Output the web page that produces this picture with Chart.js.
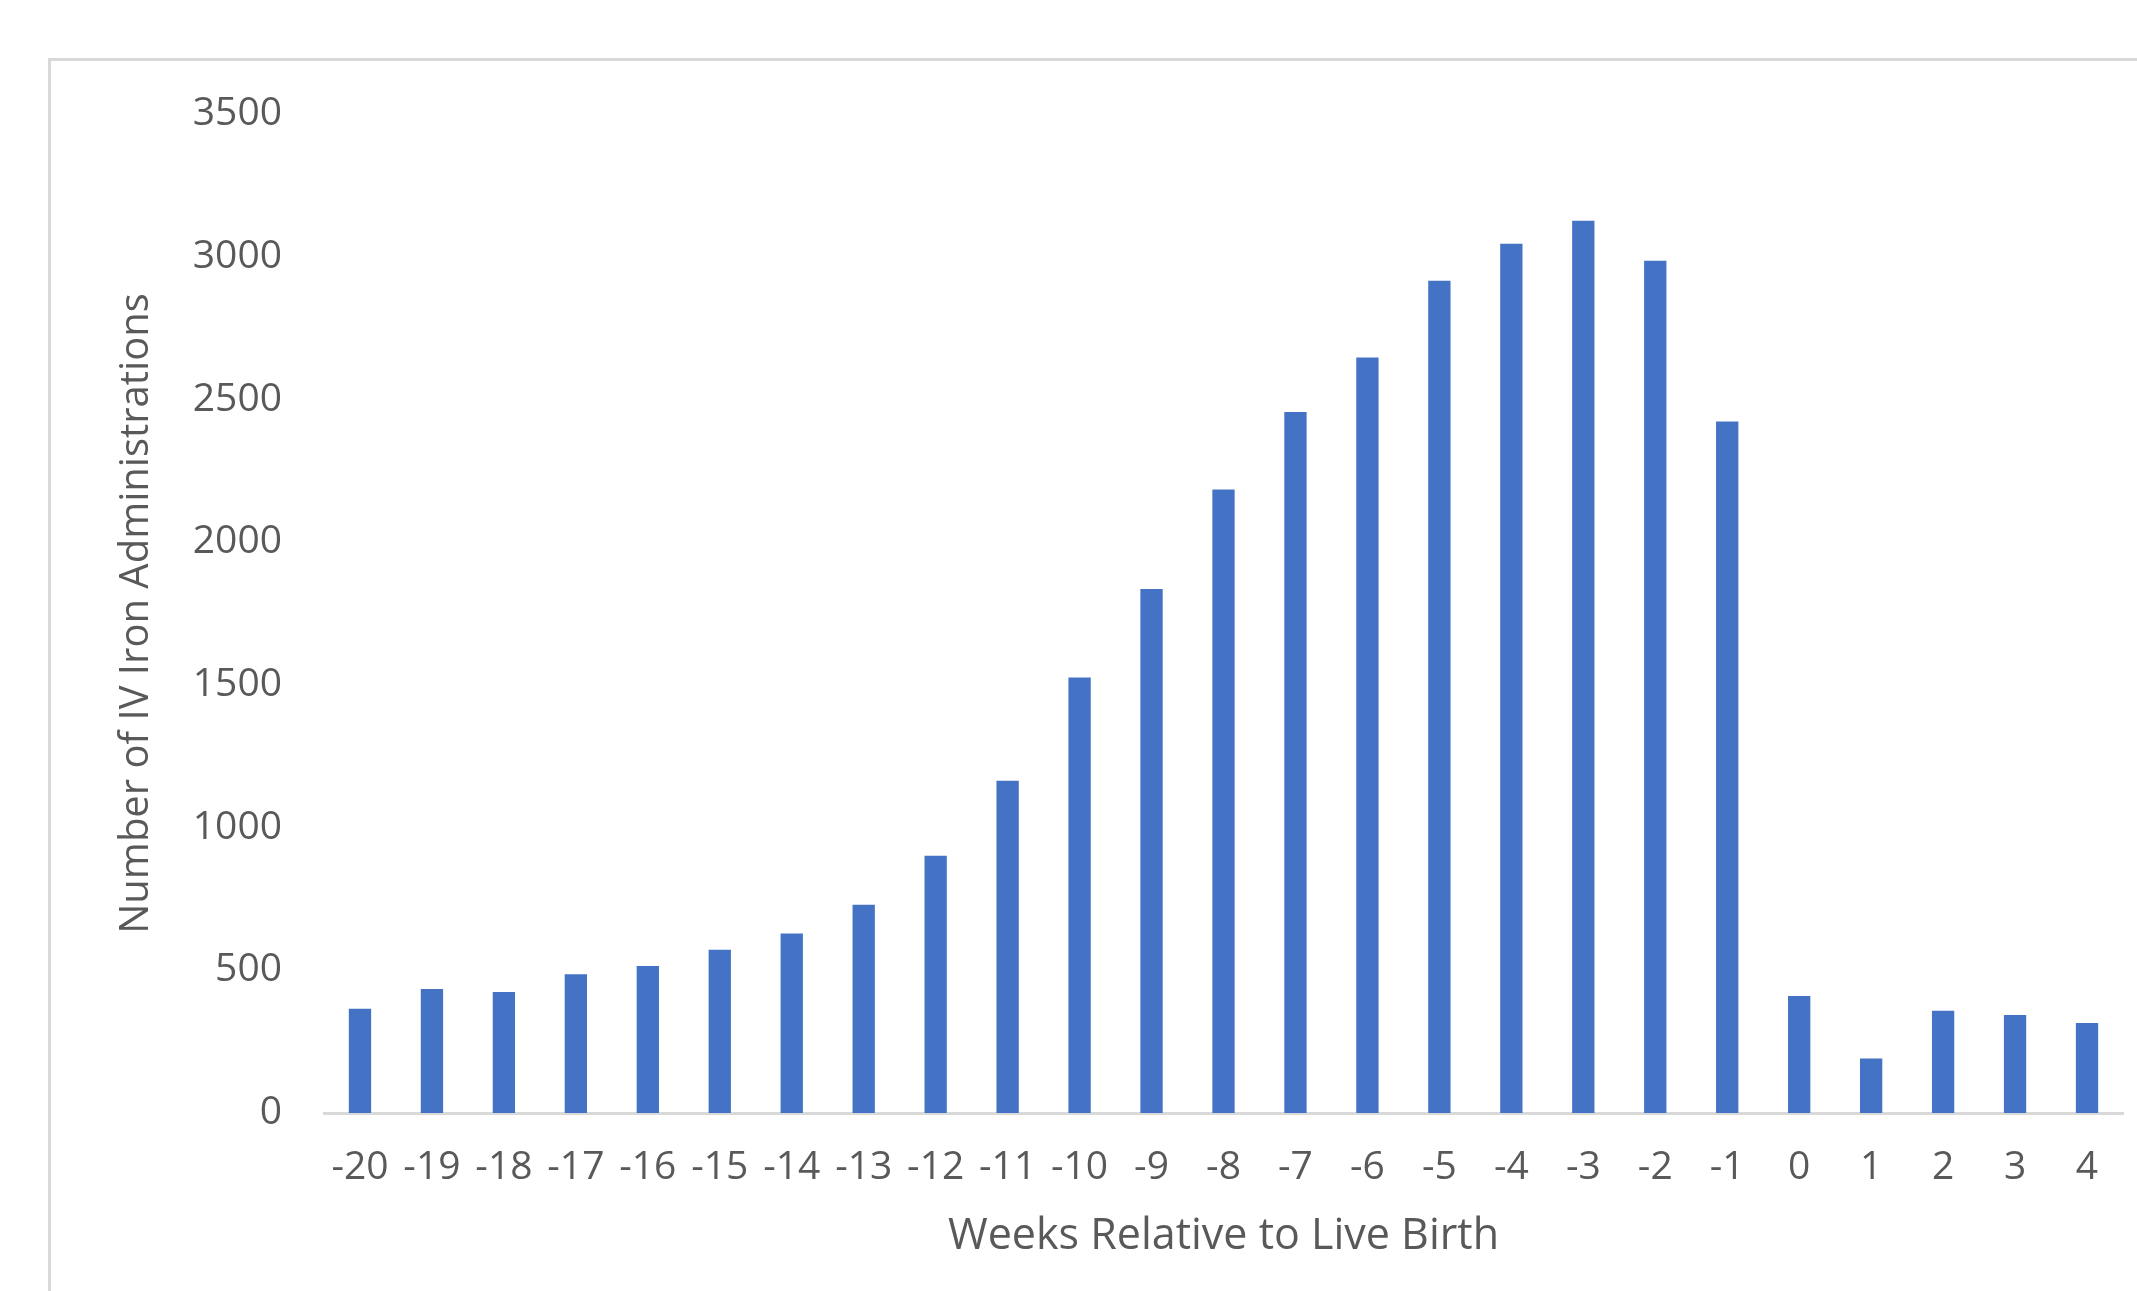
<!DOCTYPE html>
<html>
<head>
<meta charset="utf-8">
<script src="https://cdn.jsdelivr.net/npm/chart.js@4.4.1/dist/chart.umd.min.js"></script>
<style>
  html, body { margin: 0; padding: 0; background: #fff; overflow: hidden; }
  #frame { position: absolute; left: 48px; top: 58px; width: 2200px; height: 1400px; border: 3px solid #d9d9d9; }
  #ivChart { position: absolute; left: 0; top: 0; }
</style>
</head>
<body>
<div id="frame"></div>
<canvas id="ivChart" width="2137" height="1291"></canvas>
<script>
// weeks relative to live birth
const weekLabels = ['-20', '-19', '-18', '-17', '-16', '-15', '-14', '-13', '-12', '-11', '-10', '-9', '-8',
    '-7', '-6', '-5', '-4', '-3', '-2', '-1', '0', '1', '2', '3', '4'];

// number of IV iron administrations per week
const ivIronCounts = [365, 434, 424, 486, 515, 572, 629, 730, 901, 1164, 1526, 1836, 2184,
    2456, 2647, 2916, 3045, 3126, 2986, 2423, 410, 191, 358, 343, 315];

const axisMin = 0;
const axisMax = 3500;
const axisStep = 500;

const textColor = '#595959';
const fontFamily = "'Open Sans', 'DejaVu Sans', sans-serif";

const ctx = document.getElementById('ivChart').getContext('2d');
const ivChart = new Chart(ctx, {
    type: 'bar',
    data: {
        labels: weekLabels,
        datasets: [{
            label: 'IV Iron Administrations',
            data: ivIronCounts,
            backgroundColor: '#4472C4',
            borderWidth: 0,
            barPercentage: 0.31,
            categoryPercentage: 1.0
        }]
    },
    options: {
        responsive: false,
        animation: false,
        layout: {
            padding: { left: 113, right: 14, top: 114, bottom: 28 }
        },
        plugins: {
            legend: { display: false },
            tooltip: { enabled: false }
        },
        scales: {
            x: {
                grid: { display: false, drawTicks: false },
                border: { display: true, color: '#d9d9d9', width: 3 },
                ticks: {
                    color: textColor,
                    font: { family: fontFamily, size: 39 },
                    padding: 31,
                    autoSkip: false,
                    maxRotation: 0,
                    minRotation: 0
                },
                title: {
                    display: true,
                    text: 'Weeks Relative to Live Birth',
                    color: textColor,
                    font: { family: fontFamily, size: 43 },
                    padding: 0
                },
                afterFit: scale => { scale.height = 150; }
            },
            y: {
                min: axisMin,
                max: axisMax,
                grid: { display: false, drawTicks: false },
                border: { display: false },
                ticks: {
                    stepSize: axisStep,
                    color: textColor,
                    font: { family: fontFamily, size: 39 },
                    padding: 42,
                    callback: value => String(value)
                },
                title: {
                    display: true,
                    text: 'Number of IV Iron Administrations',
                    color: textColor,
                    font: { family: fontFamily, size: 40 },
                    padding: 0
                },
                afterFit: scale => { scale.width = 211; }
            }
        }
    }
});
</script>
</body>
</html>
